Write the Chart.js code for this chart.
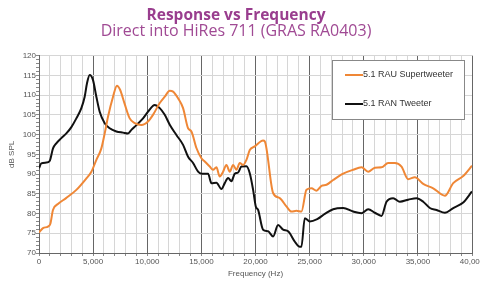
<!DOCTYPE html>
<html>
<head>
<meta charset="utf-8">
<script src="https://cdn.jsdelivr.net/npm/chart.js@4.4.0/dist/chart.umd.min.js"></script>
<style>
html, body { margin: 0; padding: 0; background: #fff; }
</style>
</head>
<body>
<canvas id="myChart" width="480" height="281"></canvas>
<script>
// values
const rauHz = [0, 370, 830, 1050, 1290, 1750, 2500, 3450, 4370, 4840, 5300, 5760, 6070, 6380, 6840, 7200, 7500, 7900, 8380, 8840, 9460, 10070, 10530, 11155, 11617, 12078, 12386, 12848, 13310, 13772, 14080, 14542, 15004, 15312, 15774, 16082, 16390, 16698, 17006, 17314, 17622, 17930, 18238, 18547, 18855, 19163, 19471, 19933, 20700, 20855, 21625, 22241, 22857, 23319, 23781, 24243, 24710, 25172, 25634, 26096, 26558, 27175, 28099, 29023, 29793, 30409, 31025, 31641, 32257, 32873, 33489, 34106, 34722, 35492, 36416, 37495, 38265, 39189, 40000];
const rauDb = [75.2, 76.3, 76.7, 77.4, 80.9, 82.4, 83.9, 86, 88.9, 90.6, 93.6, 96.5, 100.3, 104.6, 109.6, 112.4, 111.3, 107.9, 104.1, 102.9, 102.4, 103.3, 105, 108, 109.6, 111.1, 110.9, 109.2, 106.7, 101.6, 100.8, 96.6, 94, 93.2, 91.9, 91.1, 91.7, 89.4, 90.6, 92.3, 90.6, 92.3, 91.1, 92.8, 92.3, 93.6, 96.1, 97, 98.5, 98.3, 85.2, 83.9, 81.8, 80.5, 80.7, 80.5, 86, 86.4, 85.8, 87, 87.3, 88.5, 90.1, 91.1, 91.7, 90.6, 91.6, 91.7, 92.8, 92.8, 91.9, 88.7, 89.2, 87.5, 86.4, 84.5, 87.7, 89.5, 92.1];

const ranHz = [0, 215, 678, 986, 1294, 1600, 2064, 2526, 2990, 3450, 3912, 4220, 4435, 4682, 4990, 5298, 5606, 6068, 6530, 7146, 7762, 8224, 8532, 8994, 9610, 10072, 10534, 10692, 11155, 11617, 12078, 12694, 13310, 13772, 14234, 14696, 15004, 15620, 15928, 16390, 16852, 17160, 17468, 17776, 18084, 18392, 18700, 19163, 19471, 19779, 20025, 20241, 20700, 21163, 21625, 22087, 22549, 23011, 23627, 24089, 24243, 24551, 25013, 25700, 26404, 27175, 28099, 29023, 29793, 30409, 31025, 31641, 32103, 32719, 33335, 34106, 34876, 35492, 36108, 36724, 37495, 38265, 39189, 40000];
const ranDb = [91.5, 92.7, 92.9, 93.3, 96.5, 97.8, 99.1, 100.3, 101.9, 104.1, 106.7, 109.6, 113, 115.1, 113.8, 109.6, 105.8, 102.9, 101.6, 100.8, 100.5, 100.3, 101.2, 102.4, 104.1, 105.8, 107.3, 107.5, 106.7, 105, 102.5, 99.9, 97.4, 94.4, 92.8, 90.6, 90.1, 90.1, 87.7, 87.8, 86.2, 87.7, 89, 88.2, 90.1, 90.4, 91.9, 92, 90.2, 86, 81.8, 80.9, 75.9, 75.5, 74.2, 77.1, 75.9, 75.5, 72.9, 71.6, 71.6, 78.8, 78, 78.6, 79.9, 81.1, 81.4, 80.5, 80.1, 81.1, 80.2, 79.4, 83, 83.9, 83, 83.5, 83.9, 83, 81.4, 80.9, 80.2, 81.4, 82.8, 85.6];

const seriesNames = ['5.1 RAU Supertweeter', '5.1 RAN Tweeter'];

function toPoints(xs, ys) {
	return xs.map((x, i) => ({ x: x, y: ys[i] }));
}

const axisFont = '"Liberation Sans", Arial, sans-serif';

// legend drawn as a boxed panel inside the plot
const boxLegend = {
	id: 'boxLegend',
	afterDraw(chart) {
		const ctx = chart.ctx;
		ctx.save();
		ctx.fillStyle = '#fff';
		ctx.fillRect(332.5, 60.5, 132, 59);
		ctx.strokeStyle = '#888';
		ctx.lineWidth = 1;
		ctx.strokeRect(332.5, 60.5, 132, 59);
		const rows = [75, 104];
		chart.data.datasets.forEach(function(ds, i) {
			ctx.strokeStyle = ds.borderColor;
			ctx.lineWidth = 2;
			ctx.beginPath();
			ctx.moveTo(345, rows[i]);
			ctx.lineTo(363, rows[i]);
			ctx.stroke();
			ctx.fillStyle = '#333';
			ctx.font = '9px ' + axisFont;
			ctx.textBaseline = 'middle';
			ctx.fillText(ds.label, 363, rows[i]);
		});
		ctx.restore();
	}
};

let ctx = document.getElementById('myChart').getContext('2d');

let chart = new Chart(ctx, {
	type: 'line',
	data: {
		datasets: [{
			label: seriesNames[0],
			data: toPoints(rauHz, rauDb),
			borderColor: '#ef8736',
			borderWidth: 2,
			pointRadius: 0,
			cubicInterpolationMode: 'monotone',
			fill: false
		}, {
			label: seriesNames[1],
			data: toPoints(ranHz, ranDb),
			borderColor: '#111111',
			borderWidth: 2,
			pointRadius: 0,
			cubicInterpolationMode: 'monotone',
			fill: false
		}]
	},
	options: {
		responsive: false,
		animation: false,
		layout: { padding: { left: 0, right: 8, top: 0, bottom: 0 } },
		plugins: {
			legend: { display: false },
			tooltip: { enabled: false },
			title: {
				display: true,
				text: 'Response vs Frequency',
				color: '#993d8e',
				font: { family: '"Open Sans", sans-serif', size: 15.5, weight: 'bold', lineHeight: 0.9 },
				padding: { top: 9, bottom: 0 }
			},
			subtitle: {
				display: true,
				text: 'Direct into HiRes 711 (GRAS RA0403)',
				color: '#a04a94',
				font: { family: '"Open Sans", sans-serif', size: 16, lineHeight: 1 },
				padding: { top: 0, bottom: 16.7 }
			}
		},
		scales: {
			x: {
				type: 'linear',
				min: 0,
				max: 40000,
				ticks: {
					stepSize: 1000,
					autoSkip: false,
					maxRotation: 0,
					padding: 1,
					color: '#555',
					font: { family: axisFont, size: 8 },
					callback: function(v) { return v % 5000 === 0 ? v.toLocaleString('en-US') : ''; }
				},
				grid: {
					color: function(c) { return c.tick && c.tick.value % 5000 === 0 ? '#666' : '#d6d6d6'; },
					tickLength: 3,
					tickColor: '#888'
				},
				border: { color: '#666' },
				title: {
					display: true,
					text: 'Frequency (Hz)',
					color: '#555',
					font: { family: axisFont, size: 8 },
					padding: { top: 0, bottom: 2 }
				},
				afterFit: function(s) { s.height = 28; s.paddingRight = 0; s.paddingLeft = 0; }
			},
			y: {
				min: 70,
				max: 120,
				ticks: {
					stepSize: 1,
					autoSkip: false,
					padding: 0,
					color: '#555',
					font: { family: axisFont, size: 8 },
					callback: function(v) { return v % 5 === 0 ? v : ''; }
				},
				grid: {
					color: function(c) { return c.tick && c.tick.value % 5 === 0 ? '#d6d6d6' : 'transparent'; },
					tickLength: 3,
					tickColor: '#888'
				},
				border: { color: '#666' },
				title: {
					display: true,
					text: 'dB SPL',
					color: '#555',
					font: { family: axisFont, size: 8 },
					padding: { top: 7, bottom: 0 }
				},
				afterFit: function(s) { s.width = 39; }
			}
		}
	},
	plugins: [boxLegend]
});
</script>
</body>
</html>
